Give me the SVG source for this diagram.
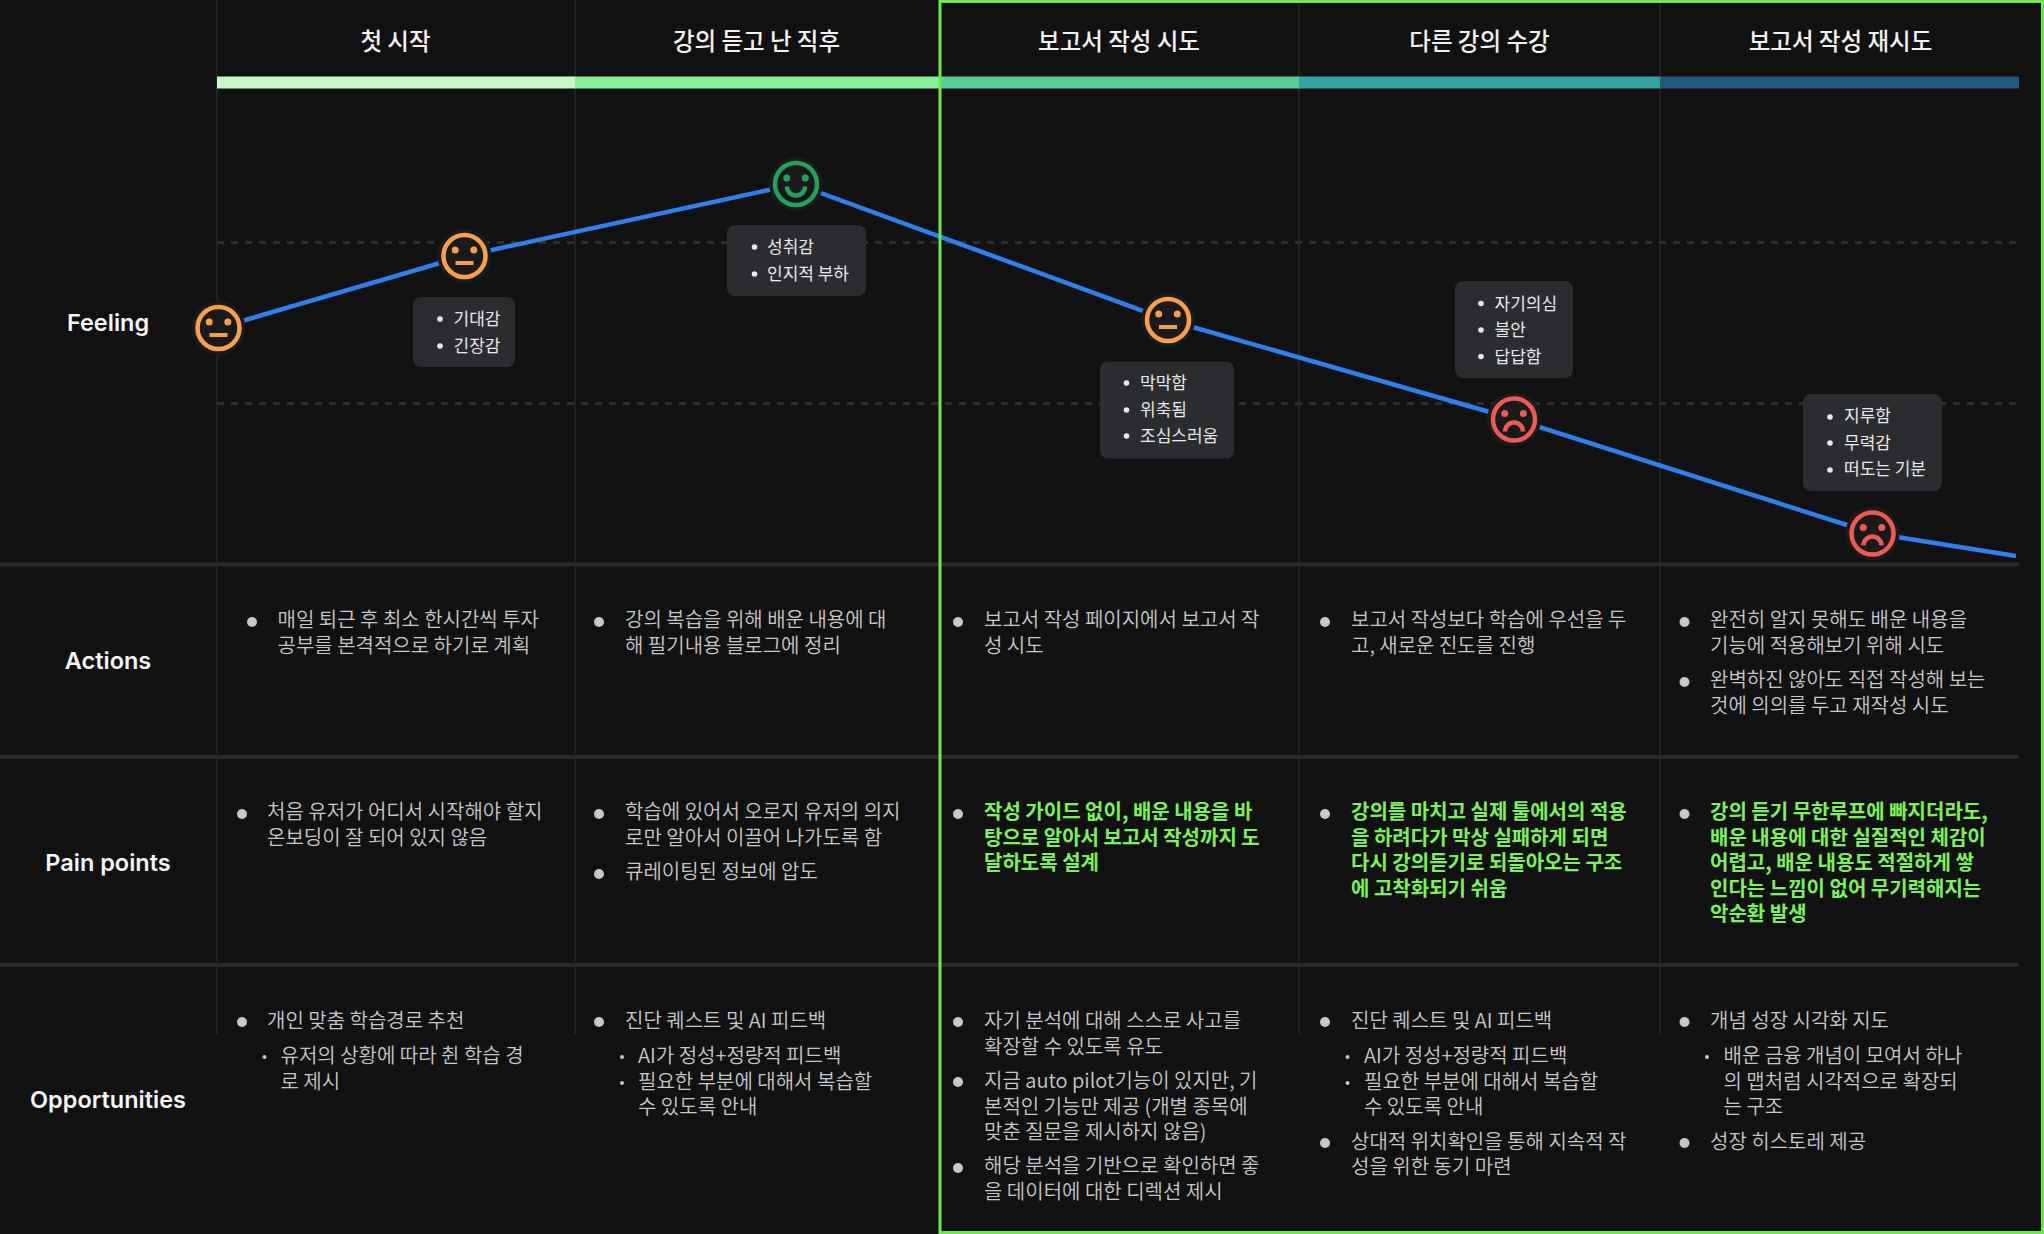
<svg xmlns="http://www.w3.org/2000/svg" width="2044" height="1234" viewBox="0 0 2044 1234">
<style>
text{font-family:"Noto Sans CJK KR","Noto Sans",sans-serif}
.hd{font-size:23.5px;font-weight:500;fill:#f2f2f2;text-anchor:middle}
.lb{font-size:23.5px;font-weight:600;fill:#f5f5f5;text-anchor:middle;font-family:Inter,"Noto Sans CJK KR",sans-serif}
.t{font-size:20px;font-weight:350;fill:#c8c8c8}
.g{font-size:20px;font-weight:700;fill:#7cf15c}
.tp{font-size:17px;fill:#e9e9e9}
.b{fill:#c8c8c8}
.sb{fill:#c8c8c8}
.tb{fill:#e9e9e9}
.tip{fill:#2b2c30}
.v{stroke:#272727;stroke-width:1.500}
.h{stroke:#2a2a2a;stroke-width:4}
.d{stroke:#2e2e2e;stroke-width:3;stroke-dasharray:7 7}
.halo{fill:#1a1a1a}
.f{fill:none;stroke-width:4.500}
.or{stroke:#f7a04b}.orf{fill:#f7a04b}
.rd{stroke:#ee5a58}.rdf{fill:#ee5a58}
.gn{stroke:#25a05a}.gnf{fill:#25a05a}
</style>
<rect width="2044" height="1234" fill="#111112"/>
<g id="grid">
<path class="v" d="M217 0V1034M575 0V1034M1299 0V1034M1660 0V1034"/>
<path class="h" d="M0 564.500H2019M0 757H2019M0 965H2019"/>
<path class="d" d="M217 242.500H2019M217 403.500H2019"/>
</g>
<g id="phase-bars">
<rect x="217" y="76.500" width="358" height="12" fill="#c6f8c8"/>
<rect x="575" y="76.500" width="364" height="12" fill="#86ef96"/>
<rect x="939" y="76.500" width="360" height="12" fill="#58cf99"/>
<rect x="1299" y="76.500" width="361" height="12" fill="#33a3a6"/>
<rect x="1660" y="76.500" width="359" height="12" fill="#21597f"/>
</g>
<g id="headers">
<text class="hd" x="395.500" y="49.500">첫 시작</text>
<text class="hd" x="756.500" y="49.500">강의 듣고 난 직후</text>
<text class="hd" x="1119" y="49.500">보고서 작성 시도</text>
<text class="hd" x="1479.500" y="49.500">다른 강의 수강</text>
<text class="hd" x="1840.500" y="49.500">보고서 작성 재시도</text>
</g>
<g id="row-labels">
<text class="lb" x="108" y="331">Feeling</text>
<text class="lb" x="108" y="669">Actions</text>
<text class="lb" x="108" y="871">Pain points</text>
<text class="lb" x="108" y="1108">Opportunities</text>
</g>
<g id="connectors"><polyline points="218,328 464,256 796,184 1168,320 1514,419 1872,533 2016,556" fill="none" stroke="#2f80ed" stroke-width="4.500"/></g>
<g id="face-1" transform="translate(218.500 328)"><circle class="halo" r="27"/><circle class="f or" r="21"/><circle class="orf" cx="-9.300" cy="-6" r="3.500"/><circle class="orf" cx="9.300" cy="-6" r="3.500"/><rect class="orf" x="-9" y="5" width="18" height="4"/></g>
<g id="face-2" transform="translate(464.500 256)"><circle class="halo" r="27"/><circle class="f or" r="21"/><circle class="orf" cx="-9.300" cy="-6" r="3.500"/><circle class="orf" cx="9.300" cy="-6" r="3.500"/><rect class="orf" x="-9" y="5" width="18" height="4"/></g>
<g id="face-3" transform="translate(796 184)"><circle class="halo" r="27"/><circle class="f gn" r="21"/><circle class="gnf" cx="-9.300" cy="-6" r="3.500"/><circle class="gnf" cx="9.300" cy="-6" r="3.500"/><path class="f gn" d="M-9 2.500A9 9 0 0 0 9 2.500"/></g>
<g id="face-4" transform="translate(1168 320)"><circle class="halo" r="27"/><circle class="f or" r="21"/><circle class="orf" cx="-9.300" cy="-6" r="3.500"/><circle class="orf" cx="9.300" cy="-6" r="3.500"/><rect class="orf" x="-9" y="5" width="18" height="4"/></g>
<g id="face-5" transform="translate(1514 419.500)"><circle class="halo" r="27"/><circle class="f rd" r="21"/><circle class="rdf" cx="-9.300" cy="-6" r="3.500"/><circle class="rdf" cx="9.300" cy="-6" r="3.500"/><path class="f rd" d="M-9 12A9 9 0 0 1 9 12"/></g>
<g id="face-6" transform="translate(1872.500 533.500)"><circle class="halo" r="27"/><circle class="f rd" r="21"/><circle class="rdf" cx="-9.300" cy="-6" r="3.500"/><circle class="rdf" cx="9.300" cy="-6" r="3.500"/><path class="f rd" d="M-9 12A9 9 0 0 1 9 12"/></g>
<g id="tip-1"><rect class="tip" x="413" y="297" width="102" height="70" rx="8"/><circle class="tb" cx="440" cy="319" r="2.800"/><text class="tp" x="453.500" y="324.500">기대감</text><circle class="tb" cx="440" cy="346" r="2.800"/><text class="tp" x="453.500" y="351.500">긴장감</text></g>
<g id="tip-2"><rect class="tip" x="727" y="225" width="139" height="71" rx="8"/><circle class="tb" cx="754.500" cy="247" r="2.800"/><text class="tp" x="767" y="252.500">성취감</text><circle class="tb" cx="754.500" cy="274" r="2.800"/><text class="tp" x="767" y="279.500">인지적 부하</text></g>
<g id="tip-3"><rect class="tip" x="1100" y="361.500" width="134" height="97" rx="8"/><circle class="tb" cx="1126.500" cy="383" r="2.800"/><text class="tp" x="1140" y="389">막막함</text><circle class="tb" cx="1126.500" cy="410" r="2.800"/><text class="tp" x="1140" y="415.500">위축됨</text><circle class="tb" cx="1126.500" cy="436" r="2.800"/><text class="tp" x="1140" y="442">조심스러움</text></g>
<g id="tip-4"><rect class="tip" x="1455" y="281" width="118" height="97" rx="8"/><circle class="tb" cx="1481" cy="303.500" r="2.800"/><text class="tp" x="1494.500" y="309.500">자기의심</text><circle class="tb" cx="1481" cy="330" r="2.800"/><text class="tp" x="1494.500" y="336">불안</text><circle class="tb" cx="1481" cy="356.500" r="2.800"/><text class="tp" x="1494.500" y="362.500">답답함</text></g>
<g id="tip-5"><rect class="tip" x="1803" y="394" width="139" height="97" rx="8"/><circle class="tb" cx="1830" cy="417" r="2.800"/><text class="tp" x="1844" y="422">지루함</text><circle class="tb" cx="1830" cy="443" r="2.800"/><text class="tp" x="1844" y="448.500">무력감</text><circle class="tb" cx="1830" cy="470" r="2.800"/><text class="tp" x="1844" y="475">떠도는 기분</text></g>
<g id="actions">
<circle class="b" cx="252" cy="622" r="5"/><text class="t" x="277.500" y="627">매일 퇴근 후 최소 한시간씩 투자</text><text class="t" x="277.500" y="652.500">공부를 본격적으로 하기로 계획</text>
<circle class="b" cx="599" cy="622" r="5"/><text class="t" x="625" y="627">강의 복습을 위해 배운 내용에 대</text><text class="t" x="625" y="652.500">해 필기내용 블로그에 정리</text>
<circle class="b" cx="958" cy="622" r="5"/><text class="t" x="984" y="627">보고서 작성 페이지에서 보고서 작</text><text class="t" x="984" y="652.500">성 시도</text>
<circle class="b" cx="1325" cy="622" r="5"/><text class="t" x="1351" y="627">보고서 작성보다 학습에 우선을 두</text><text class="t" x="1351" y="652.500">고, 새로운 진도를 진행</text>
<circle class="b" cx="1684.500" cy="622" r="5"/><text class="t" x="1710" y="627">완전히 알지 못해도 배운 내용을</text><text class="t" x="1710" y="652.500">기능에 적용해보기 위해 시도</text>
<circle class="b" cx="1684.500" cy="682" r="5"/><text class="t" x="1710" y="687">완벽하진 않아도 직접 작성해 보는</text><text class="t" x="1710" y="712.500">것에 의의를 두고 재작성 시도</text>
</g>
<g id="pain-points">
<circle class="b" cx="242" cy="814" r="5"/><text class="t" x="267" y="819">처음 유저가 어디서 시작해야 할지</text><text class="t" x="267" y="844.500">온보딩이 잘 되어 있지 않음</text>
<circle class="b" cx="599" cy="814" r="5"/><text class="t" x="625" y="819">학습에 있어서 오로지 유저의 의지</text><text class="t" x="625" y="844.500">로만 알아서 이끌어 나가도록 함</text>
<circle class="b" cx="599" cy="874" r="5"/><text class="t" x="625" y="879">큐레이팅된 정보에 압도</text>
<circle class="b" cx="958" cy="814" r="5"/><text class="g" x="984" y="819">작성 가이드 없이, 배운 내용을 바</text><text class="g" x="984" y="844.500">탕으로 알아서 보고서 작성까지 도</text><text class="g" x="984" y="870">달하도록 설계</text>
<circle class="b" cx="1325" cy="814" r="5"/><text class="g" x="1351" y="819">강의를 마치고 실제 툴에서의 적용</text><text class="g" x="1351" y="844.500">을 하려다가 막상 실패하게 되면</text><text class="g" x="1351" y="870">다시 강의듣기로 되돌아오는 구조</text><text class="g" x="1351" y="895.500">에 고착화되기 쉬움</text>
<circle class="b" cx="1684.500" cy="814" r="5"/><text class="g" x="1710" y="819">강의 듣기 무한루프에 빠지더라도,</text><text class="g" x="1710" y="844.500">배운 내용에 대한 실질적인 체감이</text><text class="g" x="1710" y="870">어렵고, 배운 내용도 적절하게 쌓</text><text class="g" x="1710" y="895.500">인다는 느낌이 없어 무기력해지는</text><text class="g" x="1710" y="921">악순환 발생</text>
</g>
<g id="opportunities">
<circle class="b" cx="242" cy="1022" r="5"/><text class="t" x="267" y="1028">개인 맞춤 학습경로 추천</text>
<circle class="sb" cx="264.500" cy="1057" r="2"/><text class="t" x="280.500" y="1063">유저의 상황에 따라 췬 학습 경</text><text class="t" x="280.500" y="1088.500">로 제시</text>
<circle class="b" cx="599" cy="1022" r="5"/><text class="t" x="625" y="1028">진단 퀘스트 및 AI 피드백</text>
<circle class="sb" cx="622" cy="1057" r="2"/><text class="t" x="638" y="1063">AI가 정성+정량적 피드백</text>
<circle class="sb" cx="622" cy="1083" r="2"/><text class="t" x="638" y="1088.500">필요한 부분에 대해서 복습할</text><text class="t" x="638" y="1114">수 있도록 안내</text>
<circle class="b" cx="958" cy="1022" r="5"/><text class="t" x="984" y="1028">자기 분석에 대해 스스로 사고를</text><text class="t" x="984" y="1053.500">확장할 수 있도록 유도</text>
<circle class="b" cx="958" cy="1082" r="5"/><text class="t" x="984" y="1088">지금 auto pilot기능이 있지만, 기</text><text class="t" x="984" y="1113.500">본적인 기능만 제공 (개별 종목에</text><text class="t" x="984" y="1139">맞춘 질문을 제시하지 않음)</text>
<circle class="b" cx="958" cy="1168" r="5"/><text class="t" x="984" y="1173">해당 분석을 기반으로 확인하면 좋</text><text class="t" x="984" y="1198.500">을 데이터에 대한 디렉션 제시</text>
<circle class="b" cx="1325" cy="1022" r="5"/><text class="t" x="1351" y="1028">진단 퀘스트 및 AI 피드백</text>
<circle class="sb" cx="1347.500" cy="1057" r="2"/><text class="t" x="1364" y="1063">AI가 정성+정량적 피드백</text>
<circle class="sb" cx="1347.500" cy="1083" r="2"/><text class="t" x="1364" y="1088.500">필요한 부분에 대해서 복습할</text><text class="t" x="1364" y="1114">수 있도록 안내</text>
<circle class="b" cx="1325" cy="1143" r="5"/><text class="t" x="1351" y="1148.500">상대적 위치확인을 통해 지속적 작</text><text class="t" x="1351" y="1174">성을 위한 동기 마련</text>
<circle class="b" cx="1684.500" cy="1022" r="5"/><text class="t" x="1710" y="1028">개념 성장 시각화 지도</text>
<circle class="sb" cx="1707" cy="1057" r="2"/><text class="t" x="1723.500" y="1063">배운 금융 개념이 모여서 하나</text><text class="t" x="1723.500" y="1088.500">의 맵처럼 시각적으로 확장되</text><text class="t" x="1723.500" y="1114">는 구조</text>
<circle class="b" cx="1684.500" cy="1143" r="5"/><text class="t" x="1710" y="1148.500">성장 히스토레 제공</text>
</g>
<rect id="highlight" x="940" y="1.500" width="1102.500" height="1231" fill="none" stroke="#70e558" stroke-width="3"/>
</svg>
